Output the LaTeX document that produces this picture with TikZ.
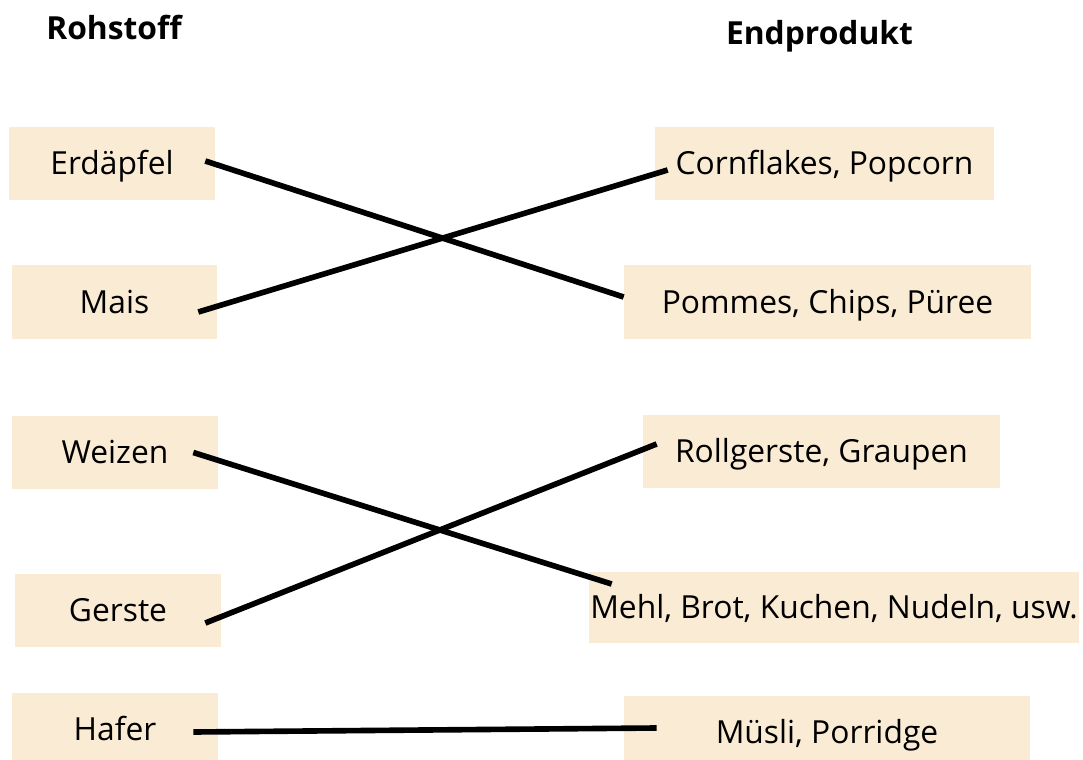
\documentclass[tikz,border=0pt]{standalone}
\usepackage{fontspec}
\setmainfont{Open Sans}
\usetikzlibrary{calc}

\definecolor{beige}{RGB}{250,235,212}

\tikzset{
  box/.style={fill=beige, inner sep=0pt, minimum height=1.825cm,
    text height=16.1pt, text depth=0pt, font=\fontsize{22.6}{26}\selectfont},
  head/.style={anchor=base, font=\fontsize{22.6}{26}\selectfont\bfseries},
  link/.style={line width=4pt}
}

\begin{document}
\begin{tikzpicture}[x=0.025cm,y=-0.025cm]
  \useasboundingbox (0,0) rectangle (1083,760);

  % Ueberschriften
  \node[head] (rohst) at (114,40) {Rohstoff};
  \node[head] (endp) at (819.5,45) {Endprodukt};

  % Rohstoffe
  \node[box, minimum width=5.15cm] (erd) at (112,163.5) {Erdäpfel};
  \node[box, minimum width=5.125cm] (mais) at (114.5,302) {Mais};
  \node[box, minimum width=5.15cm] (weiz) at (115,452.5) {Weizen};
  \node[box, minimum width=5.15cm] (gers) at (118,610.5) {Gerste};
  \node[box, minimum width=5.15cm] (haf) at (115,729.5) {Hafer};

  % Endprodukte
  \node[box, minimum width=8.475cm] (corn) at (824.5,163.5) {Cornflakes, Popcorn};
  \node[box, minimum width=10.175cm] (pomm) at (827.5,302) {Pommes, Chips, Püree};
  \node[box, minimum width=8.925cm] (roll) at (821.5,451.5) {Rollgerste, Graupen};
  \node[box, minimum width=12.25cm, minimum height=1.775cm] (mehl) at (834,607.5) {Mehl, Brot, Kuchen, Nudeln, usw.};
  \node[box, minimum width=10.15cm] (musli) at (827,732.5) {Müsli, Porridge};

  % Zuordnungen
  \draw[link] ($(erd.east)+(-10,-2.5)$) -- ($(pomm.west)+(0,-5)$);
  \draw[link] ($(mais.east)+(-19,10)$) -- ($(corn.west)+(13,6.5)$);
  \draw[link] ($(weiz.east)+(-25,0)$) -- ($(mehl.west)+(23,-23.5)$);
  \draw[link] ($(gers.east)+(-16,12.5)$) -- ($(roll.west)+(14,-7.5)$);
  \draw[link] ($(haf.east)+(-25,2.5)$) -- ($(musli.west)+(33,-4.5)$);
\end{tikzpicture}
\end{document}
